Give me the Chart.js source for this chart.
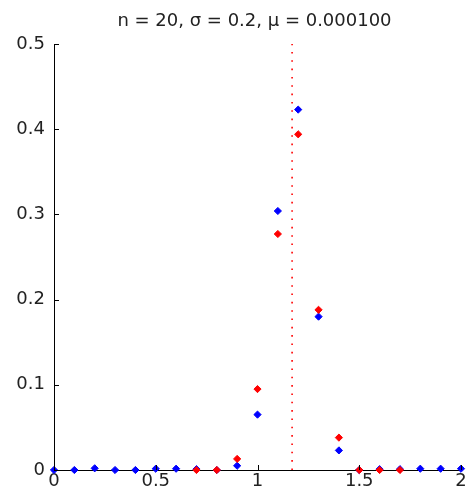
<!DOCTYPE html>
<html>
<head>
<meta charset="utf-8">
<script src="https://cdn.jsdelivr.net/npm/chart.js@4/dist/chart.umd.min.js"></script>
<style>
  html, body { margin: 0; padding: 0; background: #fff; }
  .canvas-parent { width: 468px; height: 501px; }
</style>
</head>
<body>
<div class="canvas-parent"><canvas id="chart"></canvas></div>
<script>
const titleText = 'n = 20, \u03c3 = 0.2, \u03bc = 0.000100';

// sample positions and the two estimates at each one
const xValues = [0, 0.1, 0.2, 0.3, 0.4, 0.5, 0.6, 0.7, 0.8, 0.9, 1.0, 1.1, 1.2, 1.3, 1.4, 1.5, 1.6, 1.7, 1.8, 1.9, 2.0];
const blueValues = [0, 0, 0.002, 0, 0, 0.0015, 0.0015, 0.001, 0, 0.005, 0.065, 0.304, 0.423, 0.180, 0.023, 0, 0.001, 0.001, 0.0015, 0.0015, 0.0015];
const redValues = [null, null, null, null, null, null, null, 0, 0, 0.013, 0.095, 0.277, 0.394, 0.188, 0.038, 0, 0, 0, null, null, null];

// vertical marker
const markerX = 1.17;
const markerY = [0, 0.5];

const xTicks = [0, 0.5, 1, 1.5, 2];
const yTicks = [0, 0.1, 0.2, 0.3, 0.4, 0.5];

const font = { family: 'DejaVu Sans', size: 18 };
const textColor = '#222';

let toPoints = (ys) => xValues.map((x, i) => ({ x: x, y: ys[i] }));

// inward tick marks + title over the plot area
const axesExtras = {
    id: 'axesExtras',
    afterDraw(chart) {
        const { ctx, chartArea, scales } = chart;
        ctx.save();
        ctx.strokeStyle = '#000';
        ctx.lineWidth = 1;
        ctx.beginPath();
        for (let t of xTicks) {
            let px = Math.round(scales.x.getPixelForValue(t)) + 0.5;
            ctx.moveTo(px, chartArea.bottom);
            ctx.lineTo(px, chartArea.bottom - 5);
        }
        for (let t of yTicks) {
            let py = Math.round(scales.y.getPixelForValue(t)) + 0.5;
            ctx.moveTo(chartArea.left, py);
            ctx.lineTo(chartArea.left + 5, py);
        }
        ctx.stroke();

        ctx.fillStyle = textColor;
        ctx.font = '18px "DejaVu Sans"';
        ctx.textAlign = 'center';
        ctx.textBaseline = 'alphabetic';
        ctx.fillText(titleText, (chartArea.left + chartArea.right) / 2 - 3, 26);
        ctx.restore();
    }
};

const canvas = document.querySelector('#chart');

new Chart(canvas, {
    type: 'scatter',
    data: {
        datasets: [
            {
                label: 'red',
                data: toPoints(redValues),
                pointStyle: 'rectRot',
                pointRadius: 3.6,
                pointBackgroundColor: '#ff0000',
                pointBorderColor: '#ff0000',
                pointBorderWidth: 1,
                clip: false,
            },
            {
                label: 'blue',
                data: toPoints(blueValues),
                pointStyle: 'rectRot',
                pointRadius: 3.6,
                pointBackgroundColor: '#0000ff',
                pointBorderColor: '#0000ff',
                pointBorderWidth: 1,
                clip: false,
            },
            {
                label: 'mu',
                data: markerY.map(y => ({ x: markerX, y: y })),
                showLine: true,
                pointRadius: 0,
                borderColor: '#ff0000',
                borderWidth: 1.6,
                borderDash: [1.6, 6.73],
            },
        ],
    },
    options: {
        animation: false,
        responsive: true,
        maintainAspectRatio: false,
        devicePixelRatio: 1,
        layout: { padding: { top: 44, right: 7, left: 0, bottom: 0 } },
        plugins: {
            legend: { display: false },
            tooltip: { enabled: false },
            title: { display: false },
        },
        scales: {
            x: {
                type: 'linear',
                min: 0,
                max: 2,
                afterFit: (scale) => { scale.height = 31; },
                afterBuildTicks: (scale) => { scale.ticks = xTicks.map(v => ({ value: v })); },
                grid: { display: false, drawTicks: false },
                border: { display: true, color: '#000', width: 1 },
                ticks: {
                    padding: 1,
                    color: textColor,
                    font: font,
                    maxRotation: 0,
                    callback: (v) => String(v),
                },
            },
            y: {
                type: 'linear',
                min: 0,
                max: 0.5,
                afterFit: (scale) => { scale.width = 54; },
                afterBuildTicks: (scale) => { scale.ticks = yTicks.map(v => ({ value: v })); },
                grid: { display: false, drawTicks: false },
                border: { display: true, color: '#000', width: 1 },
                ticks: {
                    padding: 9,
                    color: textColor,
                    font: font,
                    callback: (v) => String(Math.round(v * 10) / 10),
                },
            },
        },
    },
    plugins: [axesExtras],
});
</script>
</body>
</html>
